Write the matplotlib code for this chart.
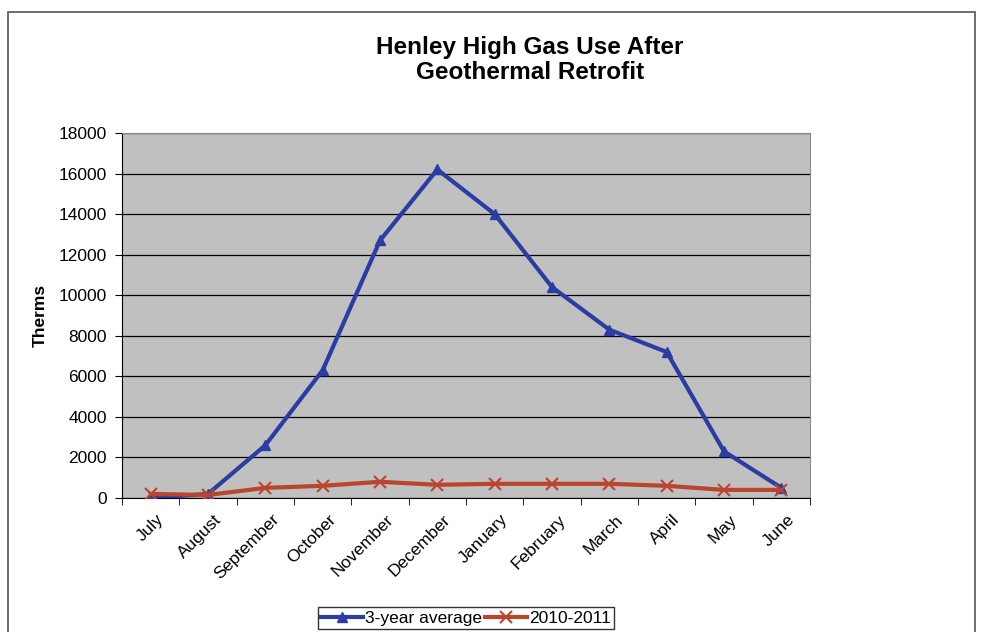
import matplotlib.pyplot as plt
from matplotlib.patches import Rectangle
import numpy as np

months = ["July", "August", "September", "October", "November", "December",
          "January", "February", "March", "April", "May", "June"]
avg_3yr = [0, 200, 2600, 6300, 12700, 16200, 14000, 10400, 8300, 7200, 2300, 500]
y2010_2011 = [200, 150, 500, 600, 800, 650, 700, 700, 700, 600, 400, 400]
y_ticks = [0, 2000, 4000, 6000, 8000, 10000, 12000, 14000, 16000, 18000]

plt.rcParams['font.family'] = ['Liberation Sans', 'DejaVu Sans']

fig = plt.figure(figsize=(9.9, 6.32), dpi=100)

# outer chart frame
fig.patches.append(Rectangle((8/990, -0.01), 967/990, 1 - 12/632 + 0.01,
                             transform=fig.transFigure, fill=False,
                             edgecolor="#555555", linewidth=1.2))

ax = fig.add_axes([122/990, 134/632, 688/990, 365/632])
ax.set_facecolor("#c0c0c0")

x = np.arange(len(months))
ax.plot(x, avg_3yr, color="#2b3ca3", linewidth=3, marker="^", markersize=7,
        label="3-year average", zorder=3)
ax.plot(x, y2010_2011, color="#b8452e", linewidth=3, marker="x", markersize=9,
        markeredgewidth=1.5, label="2010-2011", zorder=3)

ax.set_xlim(-0.5, len(months) - 0.5)
ax.set_ylim(0, 18000)
ax.set_yticks(y_ticks)
ax.set_yticklabels([str(v) for v in y_ticks], fontsize=12.5)
ax.yaxis.grid(True, color="black", linewidth=0.9)
ax.set_axisbelow(True)

ax.set_xticks(x + 0.1)
ax.set_xticklabels(months, rotation=45, ha="right", rotation_mode="anchor", fontsize=12.5)
ax.tick_params(axis="x", which="major", length=0, pad=10)
ax.set_xticks(np.arange(-0.5, len(months)), minor=True)
ax.tick_params(axis="x", which="minor", length=5, direction="out")
ax.tick_params(axis="y", length=5, direction="out", pad=6)

for s in ax.spines.values():
    s.set_color("#888888")
ax.spines["left"].set_color("black")
ax.spines["bottom"].set_color("black")

ax.set_ylabel("Therms", fontsize=12.5, fontweight="bold", labelpad=8)

fig.text(530/990, 1 - 60/632, "Henley High Gas Use After\nGeothermal Retrofit",
         ha="center", va="center", fontsize=17.5, fontweight="bold", linespacing=1.08)

leg = fig.legend(loc="center", bbox_to_anchor=(466/990, 1 - 618/632), ncol=2,
                 frameon=True, fontsize=12.5, handlelength=2.4, handletextpad=0.1,
                 columnspacing=0.2, borderpad=0.2, fancybox=False)
leg.get_frame().set_edgecolor("black")
leg.get_frame().set_linewidth(1.0)

fig.savefig("out.png", dpi=100)
